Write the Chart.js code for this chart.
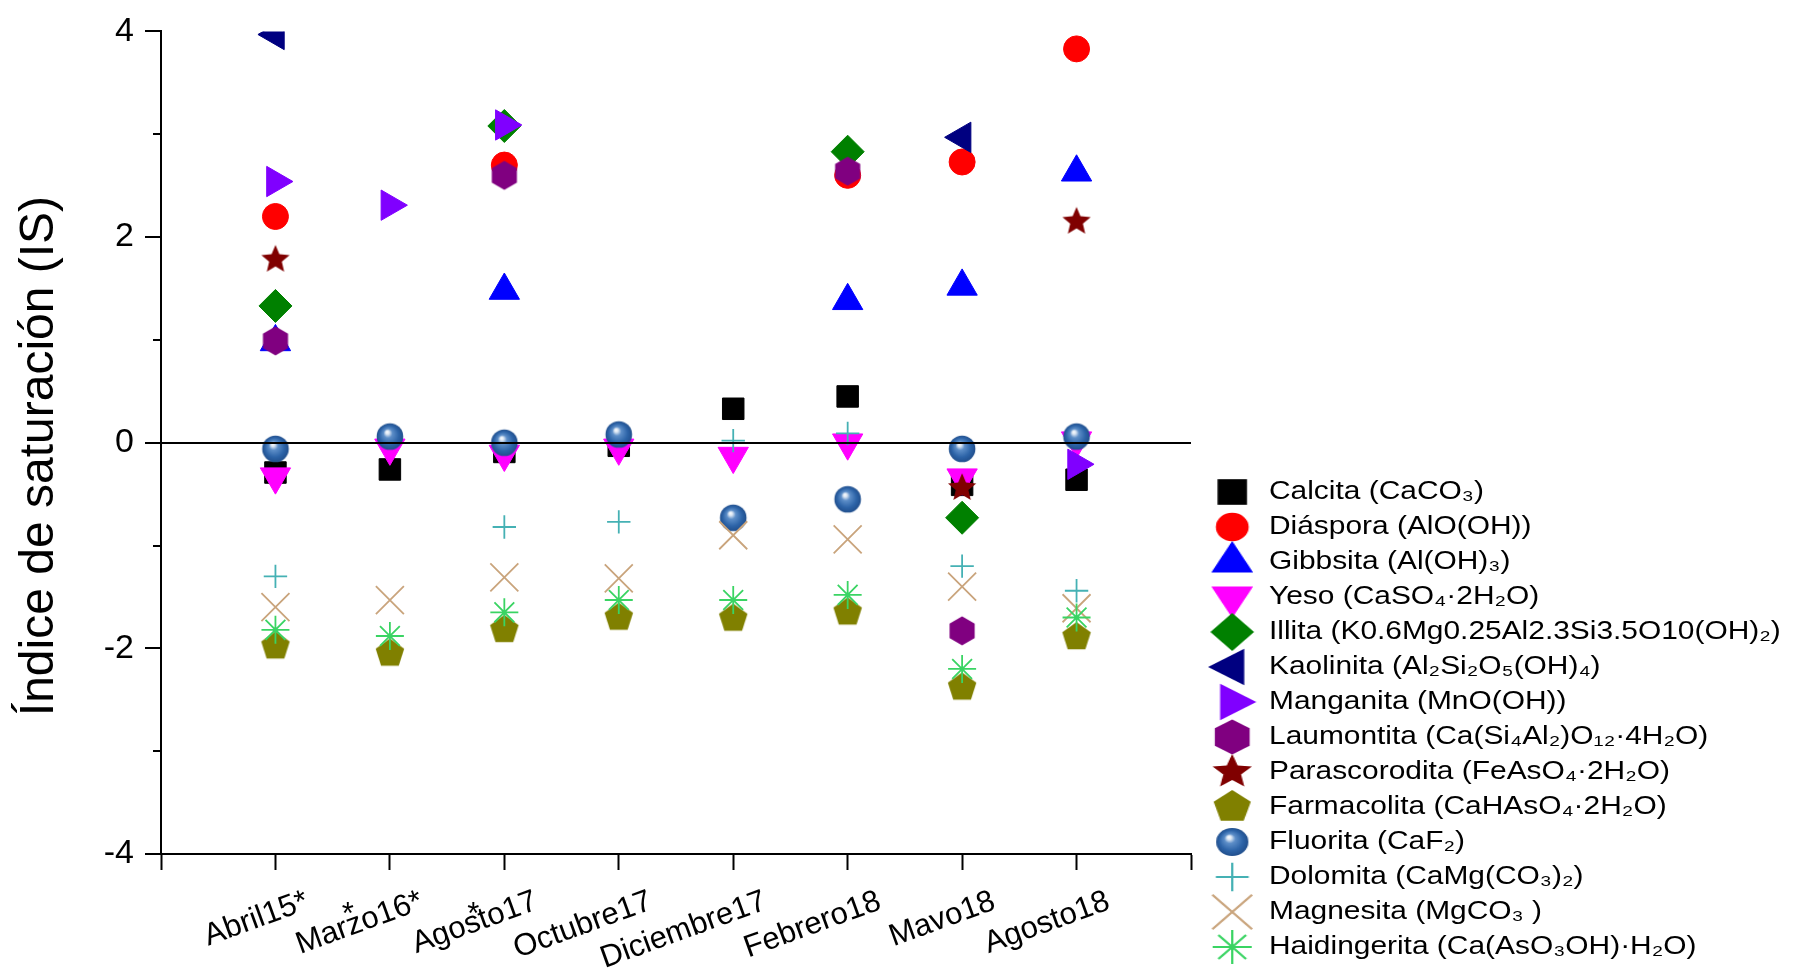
<!DOCTYPE html>
<html lang="es">
<head>
<meta charset="utf-8">
<title>Índice de saturación (IS)</title>
<script src="https://cdn.jsdelivr.net/npm/chart.js@4.4.1/dist/chart.umd.min.js"></script>
<style>
  html, body { margin: 0; padding: 0; background: #ffffff; }
  canvas { display: block; }
</style>
</head>
<body>
<canvas id="chart" width="1794" height="969"></canvas>
<script>
// ---- Sampling campaigns (placed at x = 1 .. 8) ----
const campaigns = ['Abril15*', 'Marzo16*', 'Agosto17', 'Octubre17', 'Diciembre17', 'Febrero18', 'Mavo18', 'Agosto18'];

// ---- Saturation index per mineral (null = not computed for that campaign) ----
const calcita       = [-0.29, -0.26, -0.09, -0.03,  0.33,  0.45, -0.41, -0.36];
const diaspora      = [ 2.20,  null,  2.70,  null,  null,  2.60,  2.73,  3.83];
const gibbsita      = [ 0.98,  null,  1.48,  null,  null,  1.38,  1.52,  2.63];
const yeso          = [-0.33, -0.05, -0.11, -0.05, -0.13,  0.00, -0.34,  0.02];
const illita        = [ 1.33,  null,  3.08,  null,  null,  2.83, -0.73,  null];
const kaolinita     = [ 3.97,  null,  null,  null,  null,  null,  2.97,  null];
const manganita     = [ 2.54,  2.31,  3.09,  null,  null,  null,  null, -0.21];
const laumontita    = [ 0.99,  null,  2.60,  null,  null,  2.64, -1.83,  null];
const parascorodita = [ 1.78,  null,  null,  null,  null,  null, -0.44,  2.15];
const farmacolita   = [-1.98, -2.05, -1.82, -1.70, -1.71, -1.65, -2.38, -1.89];
const fluorita      = [-0.06,  0.06,  0.00,  0.08, -0.73, -0.55, -0.06,  0.06];
const dolomita      = [-1.30,  null, -0.82, -0.77,  0.02,  0.09, -1.20, -1.44];
const magnesita     = [-1.60, -1.53, -1.31, -1.32, -0.90, -0.94, -1.40, -1.61];
const haidingerita  = [-1.82, -1.88, -1.65, -1.53, -1.53, -1.48, -2.20, -1.70];

// ---- Legend names ----
const mineralNames = [
  'Calcita (CaCO₃)',
  'Diáspora (AlO(OH))',
  'Gibbsita (Al(OH)₃)',
  'Yeso (CaSO₄·2H₂O)',
  'Illita (K0.6Mg0.25Al2.3Si3.5O10(OH)₂)',
  'Kaolinita (Al₂Si₂O₅(OH)₄)',
  'Manganita (MnO(OH))',
  'Laumontita (Ca(Si₄Al₂)O₁₂·4H₂O)',
  'Parascorodita (FeAsO₄·2H₂O)',
  'Farmacolita (CaHAsO₄·2H₂O)',
  'Fluorita (CaF₂)',
  'Dolomita (CaMg(CO₃)₂)',
  'Magnesita (MgCO₃ )',
  'Haidingerita (Ca(AsO₃OH)·H₂O)'
];
const mineralValues = [calcita, diaspora, gibbsita, yeso, illita, kaolinita, manganita,
  laumontita, parascorodita, farmacolita, fluorita, dolomita, magnesita, haidingerita];

// ---- Axis ticks ----
const yTickValues = [-4, -2, 0, 2, 4];   // labelled y ticks (odd values are minor ticks)

const FONT = '"Liberation Sans", Arial, "DejaVu Sans", sans-serif';
const LEGEND_STRETCH = 1.15;

// ---------- marker painting ----------
function regularPath(g, cx, cy, R, n, rot) {
  g.beginPath();
  for (let k = 0; k < n; k++) {
    const a = rot + k * 2 * Math.PI / n;
    const x = cx + R * Math.sin(a), y = cy - R * Math.cos(a);
    if (k) g.lineTo(x, y); else g.moveTo(x, y);
  }
  g.closePath();
}
function starPath(g, cx, cy, R, ratio) {
  g.beginPath();
  for (let k = 0; k < 10; k++) {
    const a = k * Math.PI / 5;
    const rr = k % 2 ? R * ratio : R;
    const x = cx + rr * Math.sin(a), y = cy - rr * Math.cos(a);
    if (k) g.lineTo(x, y); else g.moveTo(x, y);
  }
  g.closePath();
}
function paintMarker(g, kind, cx, cy, s, color) {
  g.fillStyle = color;
  g.strokeStyle = color;
  g.lineWidth = 2;
  const line = (x1, y1, x2, y2) => { g.beginPath(); g.moveTo(x1, y1); g.lineTo(x2, y2); g.stroke(); };
  const d = s * Math.SQRT1_2;
  switch (kind) {
    case 'square': g.fillRect(cx - s, cy - s, 2 * s, 2 * s); break;
    case 'circle': g.beginPath(); g.arc(cx, cy, s, 0, 2 * Math.PI); g.fill(); break;
    case 'up': regularPath(g, cx, cy, s, 3, 0); g.fill(); break;
    case 'down': regularPath(g, cx, cy, s, 3, Math.PI); g.fill(); break;
    case 'left': regularPath(g, cx, cy, s, 3, -Math.PI / 2); g.fill(); break;
    case 'right': regularPath(g, cx, cy, s, 3, Math.PI / 2); g.fill(); break;
    case 'diamond': regularPath(g, cx, cy, s, 4, 0); g.fill(); break;
    case 'hexagon': regularPath(g, cx, cy, s, 6, 0); g.fill(); break;
    case 'pentagon': regularPath(g, cx, cy, s, 5, 0); g.fill(); break;
    case 'star': starPath(g, cx, cy, s, 0.45); g.fill(); break;
    case 'sphere': {
      const grad = g.createRadialGradient(cx - 0.22 * s, cy - 0.36 * s, 0, cx, cy, s);
      grad.addColorStop(0, '#ffffff');
      grad.addColorStop(0.14, '#dbe6f3');
      grad.addColorStop(0.34, '#5d8ec8');
      grad.addColorStop(0.72, '#2d64a8');
      grad.addColorStop(1, '#214f8d');
      g.fillStyle = grad;
      g.beginPath(); g.arc(cx, cy, s, 0, 2 * Math.PI); g.fill();
      break;
    }
    case 'plus': line(cx - s, cy, cx + s, cy); line(cx, cy - s, cx, cy + s); break;
    case 'times': line(cx - s, cy - s, cx + s, cy + s); line(cx - s, cy + s, cx + s, cy - s); break;
    case 'asterisk':
      line(cx - s, cy, cx + s, cy); line(cx, cy - s, cx, cy + s);
      line(cx - d, cy - d, cx + d, cy + d); line(cx - d, cy + d, cx + d, cy - d);
      break;
  }
}
function markerCanvas(kind, s, color, box) {
  const c = document.createElement('canvas');
  c.width = box; c.height = box;
  paintMarker(c.getContext('2d'), kind, box / 2, box / 2, s, color);
  return c;
}

// Symbol, size and colour of each mineral (plot symbols use Chart.js point styles
// where one exists; the legend uses slightly larger painted symbols)
const SPHERE = '#2d64a8';
const looks = [
  { style: 'rect',     rot: 0,   r: 15.2, color: '#000000', kind: 'square',   ls: 12.8 },
  { style: 'circle',   rot: 0,   r: 13,   color: '#ff0000', kind: 'circle',   ls: 14.3 },
  { style: 'triangle', rot: 0,   r: 17.5, color: '#0000ff', kind: 'up',       ls: 21 },
  { style: 'triangle', rot: 180, r: 17.5, color: '#ff00ff', kind: 'down',     ls: 21 },
  { style: 'rectRot',  rot: 0,   r: 16.5, color: '#008000', kind: 'diamond',  ls: 19 },
  { style: 'triangle', rot: 270, r: 17.5, color: '#000080', kind: 'left',     ls: 21 },
  { style: 'triangle', rot: 90,  r: 17.5, color: '#8000ff', kind: 'right',    ls: 21 },
  { style: 'hexagon',  rot: 0,   r: 14.5, color: '#800080', kind: 'hexagon',  ls: 17.5 },
  { style: 'star5',    rot: 0,   r: 14.8, color: '#800000', kind: 'star',     ls: 18 },
  { style: 'pentagon', rot: 0,   r: 15,   color: '#808000', kind: 'pentagon', ls: 17 },
  { style: 'sphere',   rot: 0,   r: 13.3, color: SPHERE,    kind: 'sphere',   ls: 14 },
  { style: 'cross',    rot: 0,   r: 11.7, color: '#45b1b4', kind: 'plus',     ls: 14.3, thin: true },
  { style: 'crossRot', rot: 0,   r: 19.8, color: '#c9a47c', kind: 'times',    ls: 17.3, thin: true },
  { style: 'star',     rot: 0,   r: 14,   color: '#3ad463', kind: 'asterisk', ls: 17,   thin: true }
];
const builtIn = ['rect', 'circle', 'triangle', 'rectRot', 'cross', 'crossRot', 'star'];

const legendSymbols = looks.map(l => markerCanvas(l.kind, l.ls, l.color, 48));

const datasets = mineralValues.map((vals, i) => {
  const l = looks[i];
  const pointStyle = builtIn.includes(l.style) ? l.style : markerCanvas(l.kind, l.r, l.color, 34);
  return {
    label: mineralNames[i],
    data: vals.map((v, j) => (v === null ? null : { x: j + 1, y: v })).filter(p => p !== null),
    showLine: false,
    pointStyle,
    pointRotation: l.rot,
    pointRadius: l.r,
    pointHoverRadius: l.r,
    pointBackgroundColor: l.color,
    pointBorderColor: l.color,
    pointBorderWidth: l.thin ? 1.8 : 1,
    order: -i            // later minerals are painted on top
  };
});

// The legend block is drawn horizontally widened (and not clipped to its box)
const legendStretch = {
  id: 'legendStretch',
  beforeDraw(chart) {
    const lg = chart.legend;
    if (!lg || lg.__widened) return;
    const base = lg.draw;
    lg.draw = function (...args) {
      if (!this.options.display) return;
      const g = this.ctx;
      g.save();
      g.translate(this.left, 0);
      g.scale(LEGEND_STRETCH, 1);
      g.translate(-this.left, 0);
      if (typeof this._draw === 'function') this._draw(); else base.apply(this, args);
      g.restore();
    };
    lg.__widened = true;
  }
};

// Small asterisks set above two of the campaign names
const labelStars = {
  id: 'labelStars',
  afterDraw(chart) {
    const xs = chart.scales.x, g = chart.ctx;
    g.save();
    g.font = `31px ${FONT}`;
    g.fillStyle = '#000';
    g.textAlign = 'center';
    g.textBaseline = 'middle';
    g.fillText('*', xs.getPixelForValue(2) - 42, 915);
    g.fillText('*', xs.getPixelForValue(3) - 31, 915);
    g.restore();
  }
};

Chart.defaults.font.family = FONT;
Chart.defaults.color = '#000';

new Chart(document.getElementById('chart'), {
  type: 'scatter',
  data: { datasets },
  plugins: [legendStretch, labelStars],
  options: {
    responsive: false,
    animation: false,
    devicePixelRatio: 1,
    layout: { padding: { top: 26, right: 114, bottom: 0, left: 0 } },
    scales: {
      x: {
        type: 'linear',
        min: 0,
        max: campaigns.length + 1,
        afterFit(scale) { scale.height = 115; },
        border: { display: true, color: '#000', width: 2 },
        grid: { drawOnChartArea: false, drawTicks: true, tickLength: 16, tickWidth: 2, tickColor: '#000' },
        ticks: {
          stepSize: 1,
          autoSkip: false,
          minRotation: 20,
          maxRotation: 20,
          padding: 13,
          labelOffset: 32,
          color: '#000',
          font: { size: 31 },
          callback: v => campaigns[v - 1] ?? ''
        }
      },
      y: {
        type: 'linear',
        min: -4,
        max: 4,
        afterFit(scale) { scale.width = 161; },
        border: { display: true, color: '#000', width: 2, z: 1 },
        grid: {
          z: 1,
          drawOnChartArea: true,
          drawTicks: true,
          tickLength: 16,
          tickWidth: 2,
          tickColor: '#000',
          tickBorderDash: ctx => (yTickValues.includes(ctx.tick.value) ? [] : [0, 8, 7, 60]),
          color: ctx => (ctx.tick && ctx.tick.value === 0 ? '#000' : 'rgba(0,0,0,0)'),
          lineWidth: 2
        },
        ticks: {
          stepSize: 1,
          padding: 11,
          color: '#000',
          font: { size: 34 },
          callback: v => (yTickValues.includes(v) ? String(v) : '')
        },
        title: {
          display: true,
          text: 'Índice de saturación (IS)  ',
          color: '#000',
          font: { size: 48 },
          padding: { top: 11, bottom: 0 }
        }
      },
      gap: {
        type: 'linear',
        position: 'right',
        afterFit(scale) { scale.width = 9; },
        grid: { display: false, drawTicks: false },
        border: { display: false },
        ticks: { display: false }
      }
    },
    plugins: {
      tooltip: { enabled: false },
      legend: {
        position: 'right',
        align: 'end',
        maxWidth: 480,
        labels: {
          usePointStyle: true,
          pointStyleWidth: 38,
          padding: 9,
          color: '#000',
          font: { size: 26 },
          sort: (a, b) => a.datasetIndex - b.datasetIndex,
          generateLabels(chart) {
            const items = Chart.defaults.plugins.legend.labels.generateLabels(chart);
            items.forEach(it => { it.pointStyle = legendSymbols[it.datasetIndex]; it.rotation = 0; });
            return items;
          }
        }
      }
    }
  }
});
</script>
</body>
</html>
